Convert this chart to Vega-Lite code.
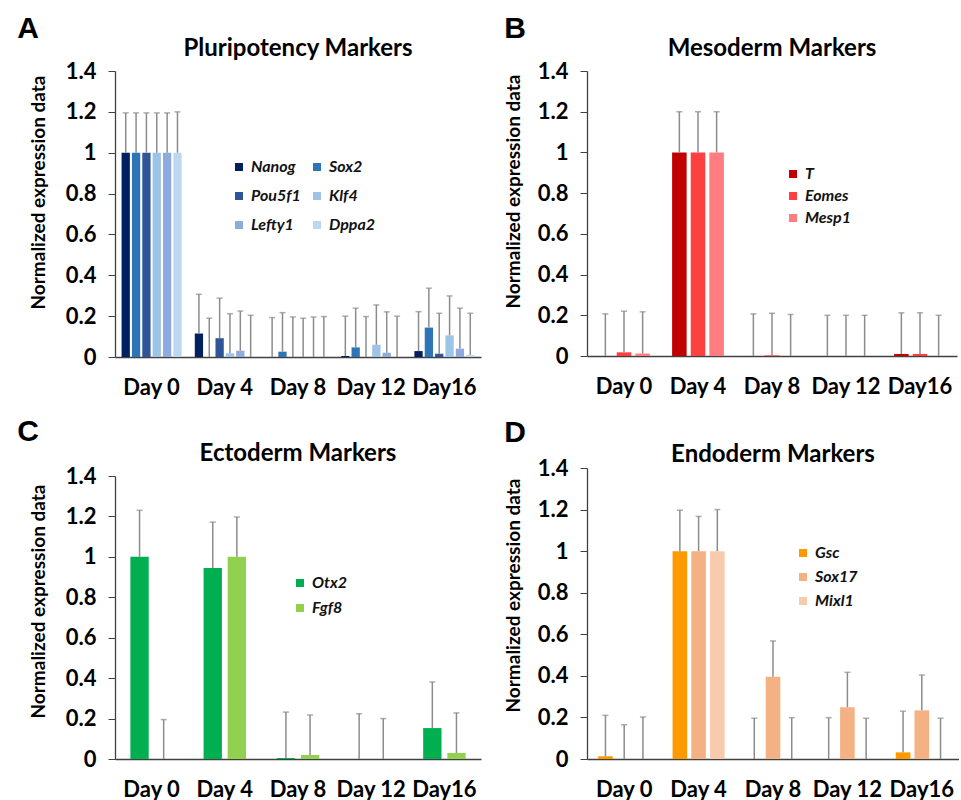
{
  "$schema": "https://vega.github.io/schema/vega-lite/v6.json",
  "background": "white",
  "padding": {"left": 17, "top": 14, "right": 0, "bottom": 0},
  "config": {
    "font": "Lato",
    "view": {"stroke": null},
    "axis": {"labelFont": "Lato", "labelFontWeight": "bold", "labelFontSize": 22, "labelColor": "#000000", "domainColor": "#404040", "domainWidth": 1.3, "tickColor": "#404040", "grid": false, "titleFont": "Lato", "titleFontSize": 19, "titleFontWeight": "bold", "titleColor": "#000000"},
    "legend": {"labelFont": "Lato", "labelFontStyle": "italic", "labelFontWeight": "bold", "labelFontSize": 16, "labelColor": "#111111", "symbolType": "square", "symbolSize": 64, "symbolStrokeWidth": 0, "title": null},
    "title": {"font": "Lato", "fontWeight": "bold", "color": "#000000"},
    "concat": {"spacing": 23}
  },
  "resolve": {"scale": {"color": "independent", "x": "independent", "y": "independent", "xOffset": "independent"}, "legend": {"color": "independent"}},
  "datasets": {
    "pluri": [
      {"day": "Day 0", "gene": "Nanog", "value": 1, "hi": 1.195},
      {"day": "Day 0", "gene": "Sox2", "value": 1, "hi": 1.195},
      {"day": "Day 0", "gene": "Pou5f1", "value": 1, "hi": 1.195},
      {"day": "Day 0", "gene": "Klf4", "value": 1, "hi": 1.195},
      {"day": "Day 0", "gene": "Lefty1", "value": 1, "hi": 1.195},
      {"day": "Day 0", "gene": "Dppa2", "value": 1, "hi": 1.2},
      {"day": "Day 4", "gene": "Nanog", "value": 0.115, "hi": 0.307},
      {"day": "Day 4", "gene": "Sox2", "value": 0, "hi": 0.19},
      {"day": "Day 4", "gene": "Pou5f1", "value": 0.092, "hi": 0.288},
      {"day": "Day 4", "gene": "Klf4", "value": 0.018, "hi": 0.212},
      {"day": "Day 4", "gene": "Lefty1", "value": 0.031, "hi": 0.225},
      {"day": "Day 4", "gene": "Dppa2", "value": 0, "hi": 0.204},
      {"day": "Day 8", "gene": "Nanog", "value": 0, "hi": 0.193},
      {"day": "Day 8", "gene": "Sox2", "value": 0.026, "hi": 0.217},
      {"day": "Day 8", "gene": "Pou5f1", "value": 0, "hi": 0.196},
      {"day": "Day 8", "gene": "Klf4", "value": 0, "hi": 0.19},
      {"day": "Day 8", "gene": "Lefty1", "value": 0, "hi": 0.196},
      {"day": "Day 8", "gene": "Dppa2", "value": 0, "hi": 0.198},
      {"day": "Day 12", "gene": "Nanog", "value": 0.005, "hi": 0.2},
      {"day": "Day 12", "gene": "Sox2", "value": 0.047, "hi": 0.239},
      {"day": "Day 12", "gene": "Pou5f1", "value": 0, "hi": 0.198},
      {"day": "Day 12", "gene": "Klf4", "value": 0.06, "hi": 0.255},
      {"day": "Day 12", "gene": "Lefty1", "value": 0.021, "hi": 0.221},
      {"day": "Day 12", "gene": "Dppa2", "value": 0, "hi": 0.2},
      {"day": "Day16", "gene": "Nanog", "value": 0.029, "hi": 0.222},
      {"day": "Day16", "gene": "Sox2", "value": 0.144, "hi": 0.337},
      {"day": "Day16", "gene": "Pou5f1", "value": 0.016, "hi": 0.214},
      {"day": "Day16", "gene": "Klf4", "value": 0.106, "hi": 0.299},
      {"day": "Day16", "gene": "Lefty1", "value": 0.041, "hi": 0.239},
      {"day": "Day16", "gene": "Dppa2", "value": 0.01, "hi": 0.214}
    ],
    "meso": [
      {"day": "Day 0", "gene": "T", "value": 0, "hi": 0.207},
      {"day": "Day 0", "gene": "Eomes", "value": 0.018, "hi": 0.22},
      {"day": "Day 0", "gene": "Mesp1", "value": 0.012, "hi": 0.217},
      {"day": "Day 4", "gene": "T", "value": 1, "hi": 1.2},
      {"day": "Day 4", "gene": "Eomes", "value": 1, "hi": 1.2},
      {"day": "Day 4", "gene": "Mesp1", "value": 1, "hi": 1.2},
      {"day": "Day 8", "gene": "T", "value": 0, "hi": 0.207},
      {"day": "Day 8", "gene": "Eomes", "value": 0.003, "hi": 0.21},
      {"day": "Day 8", "gene": "Mesp1", "value": 0, "hi": 0.204},
      {"day": "Day 12", "gene": "T", "value": 0, "hi": 0.2},
      {"day": "Day 12", "gene": "Eomes", "value": 0, "hi": 0.2},
      {"day": "Day 12", "gene": "Mesp1", "value": 0, "hi": 0.2},
      {"day": "Day16", "gene": "T", "value": 0.01, "hi": 0.212},
      {"day": "Day16", "gene": "Eomes", "value": 0.01, "hi": 0.212},
      {"day": "Day16", "gene": "Mesp1", "value": 0, "hi": 0.2}
    ],
    "ecto": [
      {"day": "Day 0", "gene": "Otx2", "value": 1, "hi": 1.23},
      {"day": "Day 0", "gene": "Fgf8", "value": 0, "hi": 0.195},
      {"day": "Day 4", "gene": "Otx2", "value": 0.945, "hi": 1.172},
      {"day": "Day 4", "gene": "Fgf8", "value": 1, "hi": 1.197},
      {"day": "Day 8", "gene": "Otx2", "value": 0.005, "hi": 0.232},
      {"day": "Day 8", "gene": "Fgf8", "value": 0.02, "hi": 0.218},
      {"day": "Day 12", "gene": "Otx2", "value": 0, "hi": 0.224},
      {"day": "Day 12", "gene": "Fgf8", "value": 0, "hi": 0.2},
      {"day": "Day16", "gene": "Otx2", "value": 0.153, "hi": 0.381},
      {"day": "Day16", "gene": "Fgf8", "value": 0.03, "hi": 0.228}
    ],
    "endo": [
      {"day": "Day 0", "gene": "Gsc", "value": 0.013, "hi": 0.21},
      {"day": "Day 0", "gene": "Sox17", "value": 0, "hi": 0.165},
      {"day": "Day 0", "gene": "Mixl1", "value": 0, "hi": 0.202},
      {"day": "Day 4", "gene": "Gsc", "value": 1, "hi": 1.197},
      {"day": "Day 4", "gene": "Sox17", "value": 1, "hi": 1.167},
      {"day": "Day 4", "gene": "Mixl1", "value": 1, "hi": 1.2},
      {"day": "Day 8", "gene": "Gsc", "value": 0, "hi": 0.196},
      {"day": "Day 8", "gene": "Sox17", "value": 0.396, "hi": 0.568},
      {"day": "Day 8", "gene": "Mixl1", "value": 0, "hi": 0.199},
      {"day": "Day 12", "gene": "Gsc", "value": 0, "hi": 0.199},
      {"day": "Day 12", "gene": "Sox17", "value": 0.249, "hi": 0.417},
      {"day": "Day 12", "gene": "Mixl1", "value": 0, "hi": 0.196},
      {"day": "Day16", "gene": "Gsc", "value": 0.032, "hi": 0.23},
      {"day": "Day16", "gene": "Sox17", "value": 0.234, "hi": 0.404},
      {"day": "Day16", "gene": "Mixl1", "value": 0, "hi": 0.196}
    ]
  },
  "vconcat": [
    {
      "resolve": {"scale": {"color": "independent", "x": "independent", "y": "independent", "xOffset": "independent"}, "legend": {"color": "independent"}},
      "hconcat": [
        {
          "title": {"text": "A", "anchor": "start", "dx": -12, "dy": 7, "fontSize": 30, "font": "Liberation Sans", "fontWeight": "bold", "offset": 0},
          "vconcat": [
            {
              "title": {"text": "Pluripotency Markers", "fontSize": 24, "offset": -1},
              "width": 366, "height": 286,
              "data": {"name": "pluri"},
              "encoding": {
                "x": {"field": "day", "type": "nominal", "sort": ["Day 0", "Day 4", "Day 8", "Day 12", "Day16"], "scale": {"paddingInner": 0.18, "paddingOuter": 0.09}, "axis": {"title": null, "labelAngle": 0, "ticks": false, "labelPadding": 20}},
                "xOffset": {"field": "gene", "type": "nominal", "sort": ["Nanog", "Sox2", "Pou5f1", "Klf4", "Lefty1", "Dppa2"], "scale": {"paddingInner": 0.2}}
              },
              "layer": [
                {"mark": {"type": "bar"}, "encoding": {
                  "y": {"field": "value", "type": "quantitative", "scale": {"domain": [0, 1.4], "nice": false}, "axis": {"title": "Normalized expression data", "values": [0, 0.2, 0.4, 0.6, 0.8, 1, 1.2, 1.4], "format": "~g", "tickSize": 7, "labelPadding": 12, "titlePadding": 17, "titleY": 121}},
                  "color": {"field": "gene", "type": "nominal", "sort": ["Nanog", "Sox2", "Pou5f1", "Klf4", "Lefty1", "Dppa2"], "scale": {"domain": ["Nanog", "Sox2", "Pou5f1", "Klf4", "Lefty1", "Dppa2"], "range": ["#002060", "#2E75B6", "#2F5597", "#9DC3E6", "#8FAADC", "#BDD7EE"]}, "legend": {"orient": "none", "legendX": 116, "legendY": 88, "columns": 2, "direction": "horizontal", "rowPadding": 13, "columnPadding": 8}}
                }},
                {"mark": {"type": "rule", "color": "#8C8C8C", "strokeWidth": 1.5}, "encoding": {"y": {"field": "value", "type": "quantitative"}, "y2": {"field": "hi"}}},
                {"mark": {"type": "tick", "color": "#8C8C8C", "thickness": 1.5, "size": 6}, "encoding": {"y": {"field": "hi", "type": "quantitative"}}}
              ]
            }
          ]
        },
        {
          "title": {"text": "B", "anchor": "start", "dx": 0, "dy": 7, "fontSize": 30, "font": "Liberation Sans", "fontWeight": "bold", "offset": 0},
          "vconcat": [
            {
              "title": {"text": "Mesoderm Markers", "fontSize": 24, "offset": -1},
              "width": 370, "height": 285,
              "data": {"name": "meso"},
              "encoding": {
                "x": {"field": "day", "type": "nominal", "sort": ["Day 0", "Day 4", "Day 8", "Day 12", "Day16"], "scale": {"paddingInner": 0.3, "paddingOuter": 0.15}, "axis": {"title": null, "labelAngle": 0, "ticks": false, "labelPadding": 20}},
                "xOffset": {"field": "gene", "type": "nominal", "sort": ["T", "Eomes", "Mesp1"], "scale": {"paddingInner": 0.22}}
              },
              "layer": [
                {"mark": {"type": "bar"}, "encoding": {
                  "y": {"field": "value", "type": "quantitative", "scale": {"domain": [0, 1.4], "nice": false}, "axis": {"title": "Normalized expression data", "values": [0, 0.2, 0.4, 0.6, 0.8, 1, 1.2, 1.4], "format": "~g", "tickSize": 7, "labelPadding": 12, "titlePadding": 14, "titleY": 120}},
                  "color": {"field": "gene", "type": "nominal", "sort": ["T", "Eomes", "Mesp1"], "scale": {"domain": ["T", "Eomes", "Mesp1"], "range": ["#C00000", "#FF4040", "#FF7C80"]}, "legend": {"orient": "none", "legendX": 198, "legendY": 95, "rowPadding": 6}}
                }},
                {"mark": {"type": "rule", "color": "#8C8C8C", "strokeWidth": 1.5}, "encoding": {"y": {"field": "value", "type": "quantitative"}, "y2": {"field": "hi"}}},
                {"mark": {"type": "tick", "color": "#8C8C8C", "thickness": 1.5, "size": 6}, "encoding": {"y": {"field": "hi", "type": "quantitative"}}}
              ]
            }
          ]
        }
      ]
    },
    {
      "resolve": {"scale": {"color": "independent", "x": "independent", "y": "independent", "xOffset": "independent"}, "legend": {"color": "independent"}},
      "hconcat": [
        {
          "title": {"text": "C", "anchor": "start", "dx": -12, "dy": 5, "fontSize": 30, "font": "Liberation Sans", "fontWeight": "bold", "offset": 0},
          "vconcat": [
            {
              "title": {"text": "Ectoderm Markers", "fontSize": 24, "offset": -1},
              "width": 366, "height": 291,
              "data": {"name": "ecto"},
              "encoding": {
                "x": {"field": "day", "type": "nominal", "sort": ["Day 0", "Day 4", "Day 8", "Day 12", "Day16"], "scale": {"paddingInner": 0.42, "paddingOuter": 0.21}, "axis": {"title": null, "labelAngle": 0, "ticks": false, "labelPadding": 20}},
                "xOffset": {"field": "gene", "type": "nominal", "sort": ["Otx2", "Fgf8"], "scale": {"paddingInner": 0.24}}
              },
              "layer": [
                {"mark": {"type": "bar"}, "encoding": {
                  "y": {"field": "value", "type": "quantitative", "scale": {"domain": [0, 1.4], "nice": false, "range": [291, 8]}, "axis": {"title": "Normalized expression data", "values": [0, 0.2, 0.4, 0.6, 0.8, 1, 1.2, 1.4], "format": "~g", "tickSize": 7, "labelPadding": 12, "titlePadding": 17, "titleY": 133}},
                  "color": {"field": "gene", "type": "nominal", "sort": ["Otx2", "Fgf8"], "scale": {"domain": ["Otx2", "Fgf8"], "range": ["#00B050", "#92D050"]}, "legend": {"orient": "none", "legendX": 177, "legendY": 107, "rowPadding": 9}}
                }},
                {"mark": {"type": "rule", "color": "#8C8C8C", "strokeWidth": 1.5}, "encoding": {"y": {"field": "value", "type": "quantitative"}, "y2": {"field": "hi"}}},
                {"mark": {"type": "tick", "color": "#8C8C8C", "thickness": 1.5, "size": 6}, "encoding": {"y": {"field": "hi", "type": "quantitative"}}}
              ]
            }
          ]
        },
        {
          "title": {"text": "D", "anchor": "start", "dx": 0, "dy": 5, "fontSize": 30, "font": "Liberation Sans", "fontWeight": "bold", "offset": 0},
          "vconcat": [
            {
              "title": {"text": "Endoderm Markers", "fontSize": 24, "offset": -10},
              "width": 372, "height": 291,
              "data": {"name": "endo"},
              "encoding": {
                "x": {"field": "day", "type": "nominal", "sort": ["Day 0", "Day 4", "Day 8", "Day 12", "Day16"], "scale": {"paddingInner": 0.3, "paddingOuter": 0.15}, "axis": {"title": null, "labelAngle": 0, "ticks": false, "labelPadding": 20}},
                "xOffset": {"field": "gene", "type": "nominal", "sort": ["Gsc", "Sox17", "Mixl1"], "scale": {"paddingInner": 0.22}}
              },
              "layer": [
                {"mark": {"type": "bar"}, "encoding": {
                  "y": {"field": "value", "type": "quantitative", "scale": {"domain": [0, 1.4], "nice": false}, "axis": {"title": "Normalized expression data", "values": [0, 0.2, 0.4, 0.6, 0.8, 1, 1.2, 1.4], "format": "~g", "tickSize": 7, "labelPadding": 12, "titlePadding": 14, "titleY": 127}},
                  "color": {"field": "gene", "type": "nominal", "sort": ["Gsc", "Sox17", "Mixl1"], "scale": {"domain": ["Gsc", "Sox17", "Mixl1"], "range": ["#FF9900", "#F4B183", "#F8CBAD"]}, "legend": {"orient": "none", "legendX": 208, "legendY": 77, "rowPadding": 8}}
                }},
                {"mark": {"type": "rule", "color": "#8C8C8C", "strokeWidth": 1.5}, "encoding": {"y": {"field": "value", "type": "quantitative"}, "y2": {"field": "hi"}}},
                {"mark": {"type": "tick", "color": "#8C8C8C", "thickness": 1.5, "size": 6}, "encoding": {"y": {"field": "hi", "type": "quantitative"}}}
              ]
            }
          ]
        }
      ]
    }
  ],
  "spacing": 19
}
